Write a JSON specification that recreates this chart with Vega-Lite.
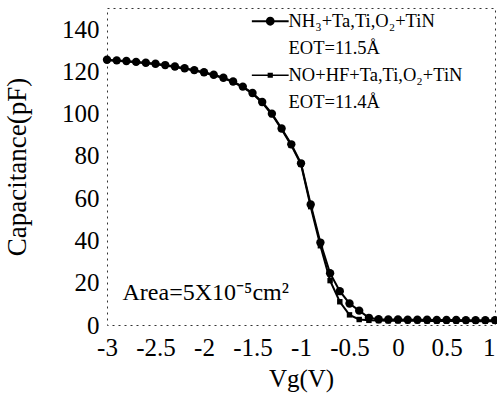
{
  "$schema": "https://vega.github.io/schema/vega-lite/v6.json",
  "autosize": "none",
  "width": 388,
  "height": 317,
  "padding": {"left": 107, "top": 8, "right": 2, "bottom": 69},
  "background": "white",
  "config": {
    "view": {"stroke": "#333", "strokeDash": [2, 4], "strokeWidth": 1},
    "font": "Liberation Serif",
    "axis": {"labelFont": "Liberation Serif", "titleFont": "Liberation Serif", "labelColor": "black", "titleColor": "black", "titleFontWeight": "normal", "grid": false, "domain": false, "ticks": false},
    "legend": {"labelFont": "Liberation Serif"}
  },
  "datasets": {
    "cv": [
      {"v": -3.0, "s": "NH₃+Ta,Ti,O₂+TiN", "c": 125.5}, {"v": -2.9, "s": "NH₃+Ta,Ti,O₂+TiN", "c": 125.2}, {"v": -2.8, "s": "NH₃+Ta,Ti,O₂+TiN", "c": 124.9}, {"v": -2.7, "s": "NH₃+Ta,Ti,O₂+TiN", "c": 124.5},
      {"v": -2.6, "s": "NH₃+Ta,Ti,O₂+TiN", "c": 124.1}, {"v": -2.5, "s": "NH₃+Ta,Ti,O₂+TiN", "c": 123.6}, {"v": -2.4, "s": "NH₃+Ta,Ti,O₂+TiN", "c": 123.0}, {"v": -2.3, "s": "NH₃+Ta,Ti,O₂+TiN", "c": 122.3},
      {"v": -2.2, "s": "NH₃+Ta,Ti,O₂+TiN", "c": 121.5}, {"v": -2.1, "s": "NH₃+Ta,Ti,O₂+TiN", "c": 120.6}, {"v": -2.0, "s": "NH₃+Ta,Ti,O₂+TiN", "c": 119.6}, {"v": -1.9, "s": "NH₃+Ta,Ti,O₂+TiN", "c": 118.4},
      {"v": -1.8, "s": "NH₃+Ta,Ti,O₂+TiN", "c": 117.0}, {"v": -1.7, "s": "NH₃+Ta,Ti,O₂+TiN", "c": 115.2}, {"v": -1.6, "s": "NH₃+Ta,Ti,O₂+TiN", "c": 112.8}, {"v": -1.5, "s": "NH₃+Ta,Ti,O₂+TiN", "c": 109.8},
      {"v": -1.4, "s": "NH₃+Ta,Ti,O₂+TiN", "c": 105.5}, {"v": -1.3, "s": "NH₃+Ta,Ti,O₂+TiN", "c": 100.0}, {"v": -1.2, "s": "NH₃+Ta,Ti,O₂+TiN", "c": 93.0}, {"v": -1.1, "s": "NH₃+Ta,Ti,O₂+TiN", "c": 85.5},
      {"v": -1.0, "s": "NH₃+Ta,Ti,O₂+TiN", "c": 76.5}, {"v": -0.9, "s": "NH₃+Ta,Ti,O₂+TiN", "c": 57.0}, {"v": -0.8, "s": "NH₃+Ta,Ti,O₂+TiN", "c": 39.0}, {"v": -0.7, "s": "NH₃+Ta,Ti,O₂+TiN", "c": 24.5},
      {"v": -0.6, "s": "NH₃+Ta,Ti,O₂+TiN", "c": 16.0}, {"v": -0.5, "s": "NH₃+Ta,Ti,O₂+TiN", "c": 10.2}, {"v": -0.4, "s": "NH₃+Ta,Ti,O₂+TiN", "c": 6.8}, {"v": -0.3, "s": "NH₃+Ta,Ti,O₂+TiN", "c": 3.4},
      {"v": -0.2, "s": "NH₃+Ta,Ti,O₂+TiN", "c": 2.7}, {"v": -0.1, "s": "NH₃+Ta,Ti,O₂+TiN", "c": 2.6}, {"v": 0.0, "s": "NH₃+Ta,Ti,O₂+TiN", "c": 2.6}, {"v": 0.1, "s": "NH₃+Ta,Ti,O₂+TiN", "c": 2.5},
      {"v": 0.2, "s": "NH₃+Ta,Ti,O₂+TiN", "c": 2.5}, {"v": 0.3, "s": "NH₃+Ta,Ti,O₂+TiN", "c": 2.5}, {"v": 0.4, "s": "NH₃+Ta,Ti,O₂+TiN", "c": 2.4}, {"v": 0.5, "s": "NH₃+Ta,Ti,O₂+TiN", "c": 2.4},
      {"v": 0.6, "s": "NH₃+Ta,Ti,O₂+TiN", "c": 2.4}, {"v": 0.7, "s": "NH₃+Ta,Ti,O₂+TiN", "c": 2.3}, {"v": 0.8, "s": "NH₃+Ta,Ti,O₂+TiN", "c": 2.3}, {"v": 0.9, "s": "NH₃+Ta,Ti,O₂+TiN", "c": 2.3},
      {"v": 1.0, "s": "NH₃+Ta,Ti,O₂+TiN", "c": 2.3},
      {"v": -3.0, "s": "NO+HF+Ta,Ti,O₂+TiN", "c": 125.3}, {"v": -2.9, "s": "NO+HF+Ta,Ti,O₂+TiN", "c": 125.0}, {"v": -2.8, "s": "NO+HF+Ta,Ti,O₂+TiN", "c": 124.7}, {"v": -2.7, "s": "NO+HF+Ta,Ti,O₂+TiN", "c": 124.3},
      {"v": -2.6, "s": "NO+HF+Ta,Ti,O₂+TiN", "c": 123.9}, {"v": -2.5, "s": "NO+HF+Ta,Ti,O₂+TiN", "c": 123.4}, {"v": -2.4, "s": "NO+HF+Ta,Ti,O₂+TiN", "c": 122.8}, {"v": -2.3, "s": "NO+HF+Ta,Ti,O₂+TiN", "c": 122.1},
      {"v": -2.2, "s": "NO+HF+Ta,Ti,O₂+TiN", "c": 121.3}, {"v": -2.1, "s": "NO+HF+Ta,Ti,O₂+TiN", "c": 120.4}, {"v": -2.0, "s": "NO+HF+Ta,Ti,O₂+TiN", "c": 119.4}, {"v": -1.9, "s": "NO+HF+Ta,Ti,O₂+TiN", "c": 118.2},
      {"v": -1.8, "s": "NO+HF+Ta,Ti,O₂+TiN", "c": 116.8}, {"v": -1.7, "s": "NO+HF+Ta,Ti,O₂+TiN", "c": 115.0}, {"v": -1.6, "s": "NO+HF+Ta,Ti,O₂+TiN", "c": 112.5}, {"v": -1.5, "s": "NO+HF+Ta,Ti,O₂+TiN", "c": 109.5},
      {"v": -1.4, "s": "NO+HF+Ta,Ti,O₂+TiN", "c": 105.2}, {"v": -1.3, "s": "NO+HF+Ta,Ti,O₂+TiN", "c": 99.6}, {"v": -1.2, "s": "NO+HF+Ta,Ti,O₂+TiN", "c": 92.6}, {"v": -1.1, "s": "NO+HF+Ta,Ti,O₂+TiN", "c": 85.0},
      {"v": -1.0, "s": "NO+HF+Ta,Ti,O₂+TiN", "c": 76.0}, {"v": -0.9, "s": "NO+HF+Ta,Ti,O₂+TiN", "c": 56.0}, {"v": -0.8, "s": "NO+HF+Ta,Ti,O₂+TiN", "c": 37.5}, {"v": -0.7, "s": "NO+HF+Ta,Ti,O₂+TiN", "c": 21.0},
      {"v": -0.6, "s": "NO+HF+Ta,Ti,O₂+TiN", "c": 11.0}, {"v": -0.5, "s": "NO+HF+Ta,Ti,O₂+TiN", "c": 4.8}, {"v": -0.4, "s": "NO+HF+Ta,Ti,O₂+TiN", "c": 2.6}, {"v": -0.3, "s": "NO+HF+Ta,Ti,O₂+TiN", "c": 2.2},
      {"v": -0.2, "s": "NO+HF+Ta,Ti,O₂+TiN", "c": 2.1}, {"v": -0.1, "s": "NO+HF+Ta,Ti,O₂+TiN", "c": 2.0}, {"v": 0.0, "s": "NO+HF+Ta,Ti,O₂+TiN", "c": 2.0}, {"v": 0.1, "s": "NO+HF+Ta,Ti,O₂+TiN", "c": 2.0},
      {"v": 0.2, "s": "NO+HF+Ta,Ti,O₂+TiN", "c": 2.0}, {"v": 0.3, "s": "NO+HF+Ta,Ti,O₂+TiN", "c": 1.9}, {"v": 0.4, "s": "NO+HF+Ta,Ti,O₂+TiN", "c": 1.9}, {"v": 0.5, "s": "NO+HF+Ta,Ti,O₂+TiN", "c": 1.9},
      {"v": 0.6, "s": "NO+HF+Ta,Ti,O₂+TiN", "c": 1.9}, {"v": 0.7, "s": "NO+HF+Ta,Ti,O₂+TiN", "c": 1.9}, {"v": 0.8, "s": "NO+HF+Ta,Ti,O₂+TiN", "c": 1.8}, {"v": 0.9, "s": "NO+HF+Ta,Ti,O₂+TiN", "c": 1.8},
      {"v": 1.0, "s": "NO+HF+Ta,Ti,O₂+TiN", "c": 1.8}
    ],
    "note": [{"text": "Area=5X10⁻⁵cm²", "x": -2.84, "y": 15}]
  },
  "resolve": {"scale": {"shape": "independent"}},
  "layer": [
    {
      "data": {"name": "cv"},
      "mark": {"type": "line", "color": "black", "strokeWidth": 2},
      "encoding": {
        "x": {"field": "v", "type": "quantitative", "scale": {"domain": [-3, 1], "nice": false},
          "axis": {"values": [-3, -2.5, -2, -1.5, -1, -0.5, 0, 0.5, 1], "labelExpr": "'' + datum.value", "labelFontSize": 25, "labelPadding": 10, "title": "Vg(V)", "titleFontSize": 25, "titlePadding": 6, "labelFlush": false,
            "labelAlign": {"condition": {"test": "datum.value == 1", "value": "right"}, "value": "center"}}},
        "y": {"field": "c", "type": "quantitative", "scale": {"domain": [0, 150], "nice": false},
          "axis": {"values": [0, 20, 40, 60, 80, 100, 120, 140], "labelFontSize": 25, "labelPadding": 8, "title": "Capacitance(pF)", "titleFontSize": 27, "titlePadding": 30}},
        "detail": {"field": "s", "type": "nominal"}
      }
    },
    {
      "data": {"name": "cv"},
      "mark": {"type": "point", "filled": true, "color": "black", "opacity": 1, "size": 70},
      "encoding": {
        "x": {"field": "v", "type": "quantitative"},
        "y": {"field": "c", "type": "quantitative"},
        "shape": {"field": "s", "type": "nominal",
          "scale": {"domain": ["NH₃+Ta,Ti,O₂+TiN", "NO+HF+Ta,Ti,O₂+TiN"], "range": ["circle", "M-0.65,-0.65H0.65V0.65H-0.65Z"]},
          "legend": null}
      }
    },
    {
      "data": {"name": "cv"},
      "transform": [{"filter": "datum.c > 1000"}],
      "mark": {"type": "point", "filled": true, "color": "black", "opacity": 1},
      "encoding": {
        "x": {"field": "v", "type": "quantitative"},
        "y": {"field": "c", "type": "quantitative"},
        "shape": {"field": "s", "type": "nominal",
          "scale": {"domain": ["NH₃+Ta,Ti,O₂+TiN", "EOT=11.5Å", "NO+HF+Ta,Ti,O₂+TiN", "EOT=11.4Å"],
                    "range": ["M-4.6,-0.24H4.6V0.24H-4.6Z M-1.1,0A1.1,1.1 0 1,1 1.1,0A1.1,1.1 0 1,1 -1.1,0Z", "M0,0", "M-4.6,-0.16H4.6V0.16H-4.6Z M-0.65,-0.65H0.65V0.65H-0.65Z", "M0,0"]},
          "legend": {
            "title": null, "orient": "none", "legendX": 154, "legendY": 4, "padding": 0,
            "labelFontSize": 18.5, "labelColor": "black", "labelOffset": 9, "labelLimit": 300,
            "rowPadding": 8, "symbolSize": 64, "symbolFillColor": "black", "symbolOpacity": 1
          }}
      }
    },
    {
      "data": {"name": "note"},
      "mark": {"type": "text", "align": "left", "baseline": "middle", "fontSize": 24, "font": "Liberation Serif", "color": "black"},
      "encoding": {
        "x": {"field": "x", "type": "quantitative"},
        "y": {"field": "y", "type": "quantitative"},
        "text": {"field": "text"}
      }
    }
  ]
}
